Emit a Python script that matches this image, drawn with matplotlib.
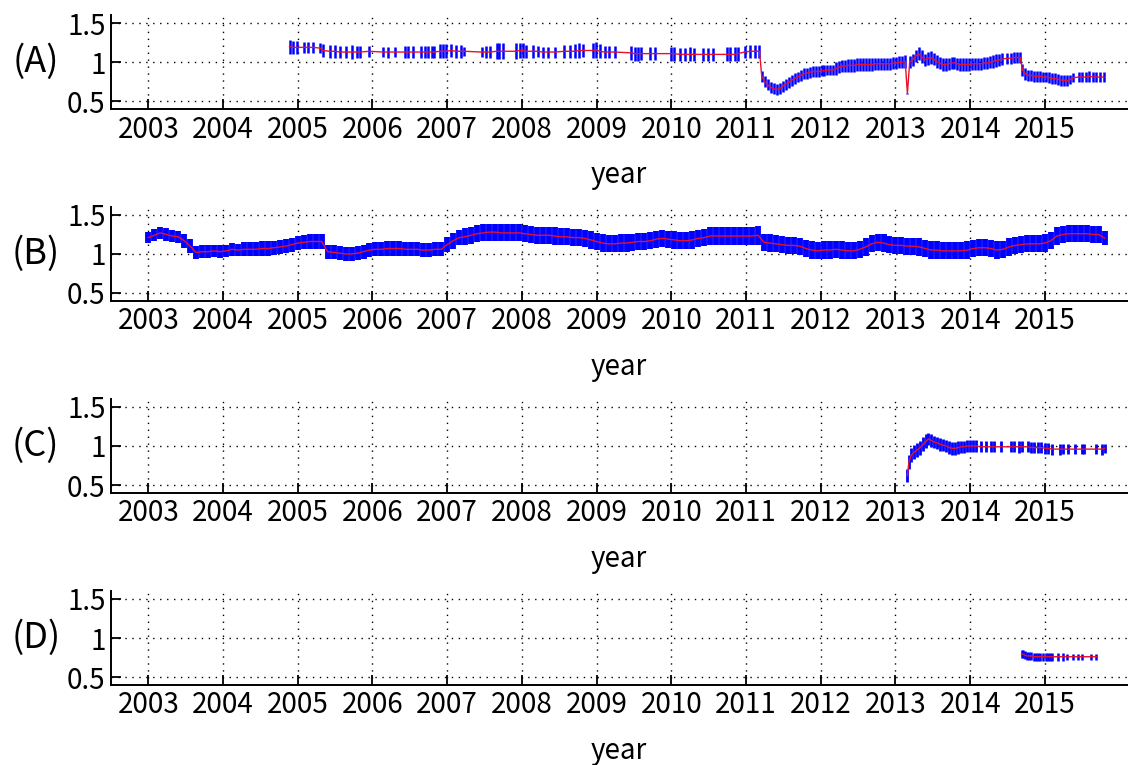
import numpy as np
import matplotlib
matplotlib.use('Agg')
import matplotlib.pyplot as plt
from matplotlib.transforms import blended_transform_factory

plt.rcParams['font.family'] = ['Noto Sans CJK JP', 'DejaVu Sans']

# ---- data ----
years = [2003, 2004, 2005, 2006, 2007, 2008, 2009, 2010, 2011, 2012, 2013, 2014, 2015]
yticks = [0.5, 1.0, 1.5]
ytick_labels = ['0.5', '1', '1.5']
panel_names = ['(A)', '(B)', '(C)', '(D)']

a_year = [2004.89, 2004.94, 2004.99, 2005.08, 2005.14, 2005.21, 2005.30, 2005.34, 2005.43, 2005.50,
          2005.56, 2005.65, 2005.72, 2005.79, 2005.83, 2005.96, 2006.14, 2006.21, 2006.30, 2006.43,
          2006.47, 2006.54, 2006.65, 2006.70, 2006.74, 2006.79, 2006.83, 2006.90, 2006.94, 2006.99,
          2007.05, 2007.12, 2007.19, 2007.23, 2007.46, 2007.52, 2007.57, 2007.66, 2007.70, 2007.75,
          2007.92, 2007.97, 2008.01, 2008.06, 2008.15, 2008.21, 2008.28, 2008.35, 2008.44, 2008.57,
          2008.64, 2008.71, 2008.77, 2008.82, 2008.95, 2008.99, 2009.04, 2009.11, 2009.17, 2009.24,
          2009.46, 2009.51, 2009.55, 2009.60, 2009.71, 2009.78, 2010.00, 2010.04, 2010.11, 2010.18,
          2010.25, 2010.31, 2010.42, 2010.49, 2010.56, 2010.74, 2010.78, 2010.85, 2010.89, 2010.98,
          2011.05, 2011.12, 2011.18,
          2011.21, 2011.25, 2011.29, 2011.33, 2011.37, 2011.41, 2011.45, 2011.49, 2011.53, 2011.57,
          2011.61, 2011.65, 2011.69, 2011.73, 2011.77, 2011.81, 2011.85, 2011.89, 2011.93, 2011.97,
          2012.01, 2012.05, 2012.09, 2012.13, 2012.17, 2012.21, 2012.25, 2012.29, 2012.33, 2012.37,
          2012.41, 2012.45, 2012.49, 2012.53, 2012.57, 2012.61, 2012.65, 2012.69, 2012.73, 2012.77,
          2012.81, 2012.85, 2012.89, 2012.93, 2012.97, 2013.01, 2013.05, 2013.09, 2013.13, 2013.16,
          2013.19, 2013.23, 2013.27, 2013.31, 2013.35, 2013.39, 2013.43, 2013.47, 2013.51, 2013.55,
          2013.59, 2013.63, 2013.67, 2013.71, 2013.75, 2013.79, 2013.83, 2013.87, 2013.91, 2013.95,
          2013.99, 2014.03, 2014.07, 2014.11, 2014.15, 2014.19, 2014.23, 2014.27, 2014.31, 2014.35,
          2014.39, 2014.43, 2014.49, 2014.54, 2014.59, 2014.63, 2014.67, 2014.70, 2014.74, 2014.78,
          2014.82, 2014.86, 2014.90, 2014.94, 2014.98, 2015.02, 2015.06, 2015.10, 2015.14, 2015.18,
          2015.22, 2015.26, 2015.30, 2015.34, 2015.38, 2015.45, 2015.50, 2015.55, 2015.59, 2015.64,
          2015.68, 2015.74, 2015.79]
a_val = [1.20, 1.19, 1.19, 1.19, 1.19, 1.19, 1.18, 1.15, 1.14, 1.14,
         1.13, 1.13, 1.13, 1.13, 1.13, 1.14, 1.13, 1.13, 1.13, 1.13,
         1.13, 1.13, 1.13, 1.13, 1.13, 1.13, 1.13, 1.14, 1.14, 1.14,
         1.15, 1.14, 1.14, 1.14, 1.13, 1.13, 1.13, 1.14, 1.14, 1.14,
         1.14, 1.15, 1.15, 1.14, 1.14, 1.14, 1.13, 1.13, 1.13, 1.14,
         1.14, 1.14, 1.15, 1.15, 1.15, 1.16, 1.14, 1.13, 1.13, 1.13,
         1.12, 1.11, 1.11, 1.11, 1.11, 1.11, 1.11, 1.11, 1.10, 1.10,
         1.10, 1.10, 1.10, 1.10, 1.10, 1.10, 1.10, 1.10, 1.11, 1.13,
         1.14, 1.14, 1.14,
         0.82, 0.75, 0.71, 0.68, 0.66, 0.65, 0.66, 0.69, 0.72, 0.74,
         0.77, 0.79, 0.81, 0.83, 0.85, 0.86, 0.87, 0.88, 0.88, 0.88,
         0.89, 0.89, 0.90, 0.90, 0.90, 0.92, 0.94, 0.95, 0.95, 0.96,
         0.96, 0.96, 0.97, 0.97, 0.97, 0.97, 0.97, 0.97, 0.98, 0.98,
         0.98, 0.98, 0.98, 0.98, 0.99, 0.99, 1.00, 1.00, 1.01, 0.60,
         1.00, 1.03, 1.08, 1.11, 1.07, 1.03, 1.05, 1.06, 1.04, 1.01,
         0.99, 0.97, 0.97, 0.98, 0.99, 0.99, 0.98, 0.97, 0.97, 0.97,
         0.97, 0.98, 0.98, 0.98, 0.98, 0.99, 0.99, 1.00, 1.01, 1.02,
         1.03, 1.04, 1.05, 1.05, 1.06, 1.06, 1.06, 0.90, 0.85, 0.83,
         0.83, 0.82, 0.82, 0.82, 0.81, 0.81, 0.80, 0.79, 0.79, 0.78,
         0.77, 0.77, 0.76, 0.78, 0.80, 0.81, 0.81, 0.81, 0.82, 0.81,
         0.81, 0.81, 0.81]
a_err = [0.09, 0.08, 0.08, 0.07, 0.07, 0.07, 0.06, 0.08, 0.08, 0.08,
         0.08, 0.08, 0.09, 0.08, 0.08, 0.07, 0.06, 0.07, 0.06, 0.08,
         0.08, 0.08, 0.08, 0.08, 0.08, 0.08, 0.08, 0.09, 0.09, 0.09,
         0.08, 0.08, 0.08, 0.06, 0.06, 0.08, 0.08, 0.10, 0.10, 0.10,
         0.10, 0.10, 0.10, 0.08, 0.08, 0.07, 0.07, 0.07, 0.07, 0.08,
         0.08, 0.09, 0.09, 0.08, 0.10, 0.10, 0.09, 0.08, 0.08, 0.08,
         0.09, 0.09, 0.09, 0.08, 0.08, 0.08, 0.09, 0.09, 0.08, 0.08,
         0.09, 0.08, 0.08, 0.08, 0.08, 0.09, 0.09, 0.09, 0.09, 0.08,
         0.08, 0.08, 0.08,
         0.07, 0.07, 0.07, 0.07, 0.07, 0.07, 0.07, 0.07, 0.07, 0.07,
         0.07, 0.07, 0.07, 0.07, 0.07, 0.07, 0.07, 0.07, 0.07, 0.07,
         0.07, 0.07, 0.07, 0.07, 0.07, 0.08, 0.08, 0.08, 0.08, 0.08,
         0.08, 0.08, 0.08, 0.08, 0.08, 0.08, 0.08, 0.08, 0.08, 0.08,
         0.08, 0.08, 0.08, 0.08, 0.08, 0.08, 0.08, 0.08, 0.08, 0.01,
         0.08, 0.08, 0.08, 0.08, 0.08, 0.08, 0.08, 0.08, 0.08, 0.08,
         0.08, 0.08, 0.08, 0.08, 0.08, 0.08, 0.08, 0.08, 0.08, 0.08,
         0.08, 0.08, 0.08, 0.08, 0.08, 0.08, 0.08, 0.08, 0.08, 0.08,
         0.08, 0.08, 0.07, 0.07, 0.07, 0.07, 0.07, 0.08, 0.08, 0.07,
         0.07, 0.07, 0.07, 0.07, 0.07, 0.07, 0.07, 0.07, 0.07, 0.07,
         0.07, 0.07, 0.07, 0.06, 0.06, 0.06, 0.07, 0.07, 0.07, 0.06,
         0.06, 0.06, 0.07]

b_year = [2003.00, 2003.08, 2003.16, 2003.24, 2003.32, 2003.40, 2003.48, 2003.56, 2003.64, 2003.72,
          2003.80, 2003.88, 2003.96, 2004.04, 2004.12, 2004.20, 2004.28, 2004.36, 2004.44, 2004.52,
          2004.60, 2004.68, 2004.76, 2004.84, 2004.92, 2005.00, 2005.08, 2005.16, 2005.24, 2005.32,
          2005.40, 2005.48, 2005.56, 2005.64, 2005.72, 2005.80, 2005.88, 2005.96, 2006.04, 2006.12,
          2006.20, 2006.28, 2006.36, 2006.44, 2006.52, 2006.60, 2006.68, 2006.76, 2006.84, 2006.92,
          2007.00, 2007.08, 2007.16, 2007.24, 2007.32, 2007.40, 2007.48, 2007.56, 2007.64, 2007.72,
          2007.80, 2007.88, 2007.96, 2008.04, 2008.12, 2008.20, 2008.28, 2008.36, 2008.44, 2008.52,
          2008.60, 2008.68, 2008.76, 2008.84, 2008.92, 2009.00, 2009.08, 2009.16, 2009.24, 2009.32,
          2009.40, 2009.48, 2009.56, 2009.64, 2009.72, 2009.80, 2009.88, 2009.96, 2010.04, 2010.12,
          2010.20, 2010.28, 2010.36, 2010.44, 2010.52, 2010.60, 2010.68, 2010.76, 2010.84, 2010.92,
          2011.00, 2011.08, 2011.16, 2011.24, 2011.32, 2011.40, 2011.48, 2011.56, 2011.64, 2011.72,
          2011.80, 2011.88, 2011.96, 2012.04, 2012.12, 2012.20, 2012.28, 2012.36, 2012.44, 2012.52,
          2012.60, 2012.68, 2012.76, 2012.84, 2012.92, 2013.00, 2013.08, 2013.16, 2013.24, 2013.32,
          2013.40, 2013.48, 2013.56, 2013.64, 2013.72, 2013.80, 2013.88, 2013.96, 2014.04, 2014.12,
          2014.20, 2014.28, 2014.36, 2014.44, 2014.52, 2014.60, 2014.68, 2014.76, 2014.84, 2014.92,
          2015.00, 2015.08, 2015.16, 2015.24, 2015.32, 2015.40, 2015.48, 2015.56, 2015.64, 2015.72,
          2015.80]
b_val = [1.21, 1.24, 1.27, 1.25, 1.23, 1.22, 1.17, 1.10, 1.02, 1.03,
         1.03, 1.04, 1.03, 1.04, 1.06, 1.05, 1.06, 1.06, 1.06, 1.07,
         1.07, 1.08, 1.09, 1.10, 1.12, 1.14, 1.15, 1.16, 1.16, 1.16,
         1.03, 1.02, 1.01, 1.00, 1.00, 1.01, 1.03, 1.05, 1.06, 1.06,
         1.07, 1.07, 1.07, 1.06, 1.06, 1.06, 1.05, 1.05, 1.06, 1.06,
         1.12, 1.17, 1.21, 1.22, 1.24, 1.26, 1.27, 1.28, 1.28, 1.27,
         1.27, 1.27, 1.27, 1.26, 1.25, 1.24, 1.24, 1.24, 1.23, 1.22,
         1.22, 1.21, 1.21, 1.20, 1.18, 1.16, 1.14, 1.13, 1.13, 1.14,
         1.14, 1.15, 1.16, 1.16, 1.17, 1.19, 1.20, 1.19, 1.18, 1.17,
         1.17, 1.18, 1.20, 1.21, 1.23, 1.23, 1.23, 1.23, 1.23, 1.23,
         1.23, 1.23, 1.24, 1.15, 1.14, 1.13, 1.12, 1.11, 1.11, 1.10,
         1.07, 1.05, 1.04, 1.05, 1.05, 1.06, 1.05, 1.04, 1.04, 1.06,
         1.09, 1.13, 1.15, 1.14, 1.12, 1.11, 1.11, 1.10, 1.10, 1.09,
         1.07, 1.05, 1.05, 1.04, 1.04, 1.04, 1.04, 1.05, 1.07, 1.08,
         1.08, 1.07, 1.05, 1.06, 1.09, 1.11, 1.12, 1.13, 1.13, 1.13,
         1.14, 1.17, 1.23, 1.25, 1.26, 1.26, 1.26, 1.26, 1.25, 1.25,
         1.20]
b_err = [0.07, 0.08, 0.08, 0.08, 0.08, 0.08, 0.09, 0.09, 0.08, 0.08,
         0.08, 0.08, 0.08, 0.08, 0.08, 0.08, 0.09, 0.09, 0.09, 0.09,
         0.09, 0.09, 0.09, 0.09, 0.09, 0.09, 0.09, 0.09, 0.09, 0.09,
         0.09, 0.09, 0.09, 0.09, 0.09, 0.09, 0.09, 0.09, 0.09, 0.09,
         0.09, 0.09, 0.09, 0.09, 0.09, 0.09, 0.09, 0.09, 0.09, 0.09,
         0.10, 0.10, 0.10, 0.11, 0.11, 0.11, 0.11, 0.11, 0.11, 0.11,
         0.11, 0.11, 0.11, 0.11, 0.11, 0.11, 0.11, 0.11, 0.11, 0.11,
         0.11, 0.11, 0.11, 0.11, 0.11, 0.11, 0.11, 0.11, 0.11, 0.11,
         0.11, 0.11, 0.11, 0.11, 0.11, 0.11, 0.11, 0.11, 0.11, 0.11,
         0.11, 0.11, 0.11, 0.11, 0.12, 0.12, 0.12, 0.12, 0.12, 0.12,
         0.12, 0.12, 0.12, 0.11, 0.11, 0.11, 0.11, 0.11, 0.11, 0.11,
         0.11, 0.11, 0.11, 0.11, 0.11, 0.11, 0.11, 0.11, 0.11, 0.11,
         0.11, 0.11, 0.11, 0.11, 0.11, 0.11, 0.11, 0.11, 0.11, 0.11,
         0.11, 0.11, 0.11, 0.11, 0.11, 0.11, 0.11, 0.11, 0.11, 0.11,
         0.11, 0.11, 0.11, 0.11, 0.11, 0.11, 0.11, 0.11, 0.11, 0.11,
         0.11, 0.11, 0.11, 0.11, 0.11, 0.11, 0.11, 0.11, 0.11, 0.11,
         0.09]

c_year = [2013.16, 2013.18, 2013.21, 2013.25, 2013.29, 2013.33, 2013.37, 2013.41, 2013.44, 2013.48,
          2013.52, 2013.56, 2013.60, 2013.64, 2013.68, 2013.72, 2013.76, 2013.80, 2013.84, 2013.88,
          2013.92, 2013.96, 2014.00, 2014.04, 2014.08, 2014.14, 2014.21, 2014.28, 2014.32, 2014.41,
          2014.55, 2014.59, 2014.66, 2014.70, 2014.77, 2014.82, 2014.86, 2014.91, 2014.95, 2015.00,
          2015.04, 2015.09, 2015.20, 2015.24, 2015.31, 2015.40, 2015.49, 2015.53, 2015.69, 2015.76,
          2015.80]
c_val = [0.62, 0.80, 0.88, 0.92, 0.95, 0.98, 1.02, 1.06, 1.09, 1.07,
         1.05, 1.04, 1.02, 1.01, 1.00, 0.98, 0.97, 0.97, 0.98, 0.99,
         0.99, 1.00, 1.00, 1.00, 1.00, 0.99, 0.99, 0.99, 0.99, 0.99,
         0.99, 0.99, 0.99, 0.99, 0.99, 0.98, 0.98, 0.98, 0.98, 0.97,
         0.97, 0.96, 0.96, 0.96, 0.96, 0.96, 0.96, 0.96, 0.96, 0.96,
         0.97]
c_err = [0.08, 0.09, 0.09, 0.09, 0.09, 0.09, 0.09, 0.09, 0.08, 0.08,
         0.08, 0.08, 0.08, 0.08, 0.08, 0.08, 0.08, 0.08, 0.08, 0.08,
         0.08, 0.08, 0.08, 0.08, 0.08, 0.07, 0.07, 0.07, 0.07, 0.07,
         0.07, 0.07, 0.08, 0.07, 0.07, 0.07, 0.07, 0.07, 0.07, 0.07,
         0.07, 0.07, 0.07, 0.06, 0.06, 0.06, 0.06, 0.06, 0.06, 0.07,
         0.06]

d_year = [2014.69, 2014.71, 2014.73, 2014.76, 2014.79, 2014.82, 2014.85, 2014.88, 2014.91, 2014.94,
          2014.97, 2015.01, 2015.04, 2015.07, 2015.10, 2015.17, 2015.24, 2015.30, 2015.37, 2015.44,
          2015.50, 2015.62, 2015.69]
d_val = [0.80, 0.79, 0.78, 0.77, 0.77, 0.77, 0.76, 0.76, 0.76, 0.76,
         0.76, 0.76, 0.76, 0.76, 0.76, 0.76, 0.76, 0.76, 0.76, 0.76,
         0.76, 0.76, 0.76]
d_err = [0.05, 0.05, 0.05, 0.05, 0.05, 0.05, 0.05, 0.05, 0.05, 0.05,
         0.05, 0.05, 0.05, 0.05, 0.05, 0.05, 0.05, 0.04, 0.04, 0.04,
         0.04, 0.04, 0.04]

series = [(a_year, a_val, a_err), (b_year, b_val, b_err),
          (c_year, c_val, c_err), (d_year, d_val, d_err)]
bar_width = [1.8, 4.2, 2.0, 1.8]

fig = plt.figure(figsize=(11.29, 7.65), dpi=100)
bottoms = [0.8575, 0.6068, 0.3558, 0.1048]
left, width, height = 0.0983, 0.900, 0.1224

for i in range(4):
    ax = fig.add_axes([left, bottoms[i], width, height])
    t, v, e = series[i]
    ax.errorbar(t, v, yerr=e, fmt='none', ecolor='#0000ff', elinewidth=bar_width[i],
                capsize=0, zorder=2)
    ax.plot(t, v, color='#e8102a', linewidth=1.0, zorder=3)

    ax.set_xlim(2002.5, 2016.1)
    ax.set_ylim(0.4, 1.6)
    ax.set_xticks(years)
    ax.set_xticklabels([str(y) for y in years])
    ax.set_yticks(yticks)
    ax.set_yticklabels(ytick_labels)
    ax.grid(True, color='black', linestyle=(0, (1, 4)), linewidth=1.0)
    ax.set_axisbelow(True)
    for s in ['top', 'right']:
        ax.spines[s].set_visible(False)
    for s in ['left', 'bottom']:
        ax.spines[s].set_linewidth(1.4)
    ax.tick_params(direction='in', length=7, width=1.3, labelsize=20, pad=4)
    ax.set_xlabel('year', fontsize=20, labelpad=11)
    tr = blended_transform_factory(ax.transAxes, ax.transData)
    ax.text(-0.074, 1.0, panel_names[i], transform=tr, ha='center', va='center', fontsize=26)

fig.savefig('out.png', dpi=100)
